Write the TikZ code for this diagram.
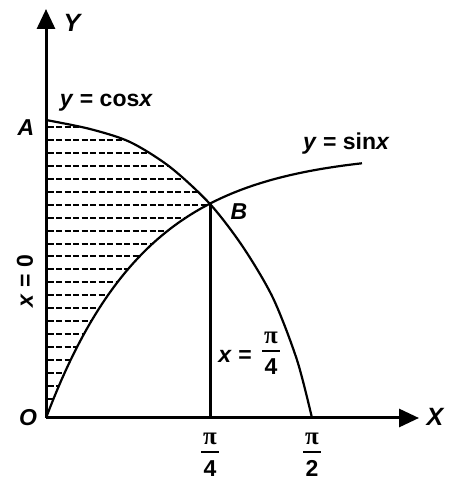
\documentclass[tikz,border=0pt]{standalone}
\usepackage{fontspec}
\setmainfont{Liberation Sans}
\newfontfamily\pifont{Liberation Serif}
\usepackage{tikz}
\usetikzlibrary{arrows.meta}
\newcommand{\pifrac}[1]{{\setlength{\arrayrulewidth}{1.8pt}%
  \begin{tabular}[b]{@{\hspace{2pt}}c@{\hspace{2pt}}}%
  {\pifont\bfseries\fontsize{25}{28}\selectfont π}\\[-2pt]\hline
  \rule{0pt}{23pt}#1\end{tabular}}}
\tikzset{
  lbl/.style={font=\bfseries\itshape\fontsize{23}{28}\selectfont, inner sep=0pt},
  fraclbl/.style={font=\bfseries\fontsize{23}{28}\selectfont, inner sep=0pt, anchor=base, text depth=0pt},
  axis/.style={line width=3pt, ->},
  curve/.style={line width=2.2pt},
  hatch/.style={line width=2pt, dash pattern=on 6pt off 2.5pt}
}

\begin{document}
\begin{tikzpicture}[x=1pt, y=1pt, >={Triangle[length=20pt, width=18pt]}]
    \useasboundingbox (0,0) rectangle (455,480);
    \coordinate (O) at (46,62);
    \coordinate (A) at (46,360);
    \coordinate (B) at (210,276);
    \coordinate (P4) at (210,62);
    \coordinate (xend) at (419,62);
    \coordinate (yend) at (46,471);
    % shaded strip between x = 0, cos and sin
    \begin{scope}
      \clip (O) -- plot[smooth] coordinates {
        (46,360) (90,351) (130,338) (170,313) (210,276) (243,233) (273,182) (297,120) (312,62)
      } -- cycle;
      \clip plot[domain=0:316, samples=80] ({46+\x}, {62+266*(1-exp(-\x/100))})
        -- (362,480) -- (46,480) -- cycle;
      \foreach \k in {0,...,21}
        \draw[hatch] (47.5,{353-12.95*\k}) -- ++(280,0);
    \end{scope}
    \draw[curve] plot[smooth] coordinates {
      (46,360) (90,351) (130,338) (170,313) (210,276) (243,233) (273,182) (297,120) (312,62)
    };
    \draw[curve] plot[domain=0:316, samples=80] ({46+\x}, {62+266*(1-exp(-\x/100))});
    \draw[axis] (O) -- (xend);
    \draw[axis] (O) -- (yend);
    \draw[line width=3pt] (P4) -- (B);
    \node[lbl, font=\bfseries\itshape\fontsize{25}{28}\selectfont] (ylab) at (72,457) {Y};
    \node[lbl, font=\bfseries\itshape\fontsize{25}{28}\selectfont] (xlab) at (435,63) {X};
    \node[lbl] (olab) at (28,62) {O};
    \node[lbl] (alab) at (26,352) {A};
    \node[lbl] (blab) at (239,268) {B};
    \node[lbl, anchor=base] (coslab) at (106,373) {y\textup{ = cos}x};
    \node[lbl, anchor=base] (sinlab) at (346,330) {y\textup{ = sin}x};
    \node[lbl, rotate=90] (x0lab) at (25,199) {x\textup{ = 0}};
    \node[lbl, anchor=base] (xeqlab) at (235,117) {x\textup{ =}};
    \node[fraclbl] (xfrac) at (271,105) {\pifrac{4}};
    \node[fraclbl] (tick4) at (210,4) {\pifrac{4}};
    \node[fraclbl] (tick2) at (312,4) {\pifrac{2}};
\end{tikzpicture}
\end{document}
